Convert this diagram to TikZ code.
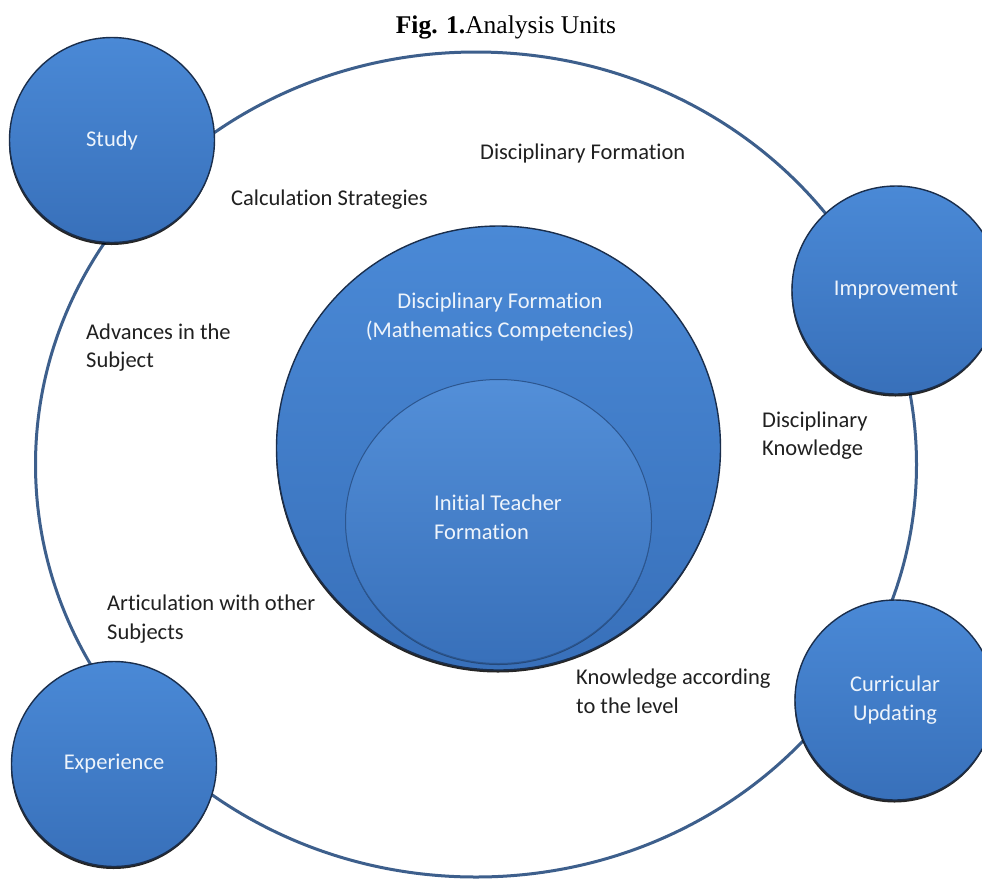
\documentclass[tikz,border=0pt]{standalone}
\usepackage{fontspec}
\setmainfont{Carlito}[RawFeature={-liga;-clig;-calt;-dlig}]
\newfontfamily\titlefont{Liberation Serif}
\usetikzlibrary{shapes.geometric,shadows}

\definecolor{ringLine}{HTML}{3D5F8C}
\definecolor{bubbleTop}{HTML}{4A89D6}
\definecolor{bubbleBottom}{HTML}{3870BA}
\definecolor{bubbleEdge}{HTML}{1A2E4C}
\definecolor{bubbleText}{HTML}{EEF4FB}
\definecolor{innerEdge}{HTML}{2C568F}
\definecolor{labelText}{HTML}{202020}

\tikzset{
  bodyfont/.style={font=\fontsize{22.5}{28.5}\selectfont},
  bubble/.style={circle, draw=bubbleEdge, line width=1.4pt,
    top color=bubbleTop, bottom color=bubbleBottom,
    text=bubbleText, bodyfont, align=center, inner sep=0pt,
    drop shadow={shadow xshift=-0.5pt, shadow yshift=-2.5pt, fill=black, opacity=0.85}},
  caption/.style={text=labelText, bodyfont, align=left, inner sep=0pt, anchor=west},
  inlabel/.style={text=bubbleText, bodyfont, inner sep=0pt},
}

\begin{document}
\begin{tikzpicture}[x=1pt,y=-1pt]
  \useasboundingbox[fill=white] (0,0) rectangle (982,879);

  % title
  \node[font=\titlefont\fontsize{25.5}{30}\selectfont, inner sep=0pt] (title) at (506,27)
    {\textbf{Fig. 1.}Analysis Units};

  % outer ring joining the four units
  \coordinate (ringc) at (476,464.5);
  \draw[ringLine, line width=3pt] (ringc) ellipse [x radius=440.5pt, y radius=412.5pt];

  % central discs
  \node[bubble, minimum size=444pt] (disc) at (498.5,448) {};
  \node[ellipse, draw=innerEdge, line width=1pt,
        top color=bubbleTop!95!white, bottom color=bubbleBottom,
        minimum width=306pt, minimum height=284pt, inner sep=0pt,
        drop shadow={shadow xshift=0pt, shadow yshift=-1.5pt, fill=black, opacity=0.35}]
        (core) at (498.5,521.5) {};
  \node[inlabel, align=center] (discText) at (500,317)
    {Disciplinary Formation\\(Mathematics Competencies)};
  \node[inlabel, align=left] (coreText) at (498,517.5)
    {Initial Teacher\\Formation};

  % the four units on the ring
  \node[bubble, minimum size=205pt] (study) at (112,140) {Study};
  \node[bubble, minimum size=208pt] (improve) at (896,290) {Improvement};
  \node[bubble, minimum size=205pt] (experience) at (114,764) {Experience};
  \node[bubble, minimum size=200pt] (curricular) at (895,700) {Curricular\\Updating};

  % relation labels
  \node[caption] (lblDF) at (480,153) {Disciplinary Formation};
  \node[caption] (lblCS) at (231,200) {Calculation Strategies};
  \node[caption] (lblAS) at (86,347.5) {Advances in the\\Subject};
  \node[caption] (lblDK) at (762,435.5) {Disciplinary\\Knowledge};
  \node[caption] (lblAO) at (107,619) {Articulation with other\\Subjects};
  \node[caption] (lblKL) at (576,691.5) {Knowledge according\\to the level};
\end{tikzpicture}
\end{document}
